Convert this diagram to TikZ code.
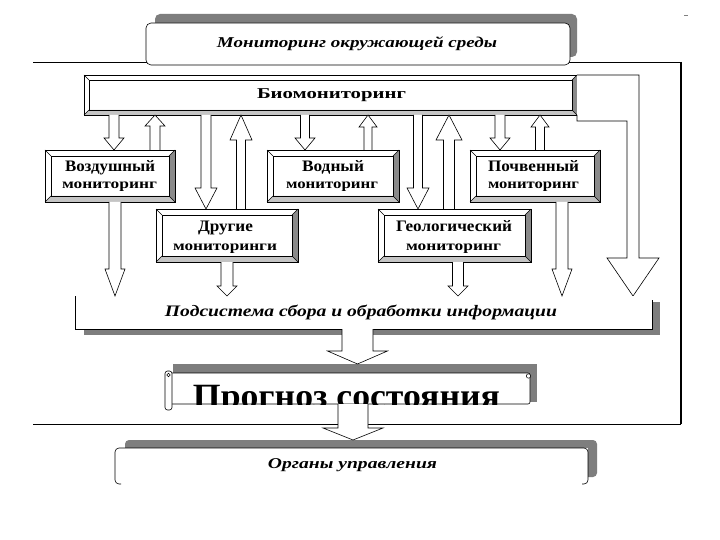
\documentclass[tikz,border=0pt]{standalone}
\usepackage{graphicx}
\usepackage{fontspec}
\setmainfont{Liberation Serif}
\usetikzlibrary{calc}
\definecolor{shd}{HTML}{7E7E7E}
\definecolor{bevl}{HTML}{C4C4C4}
\definecolor{bevd}{HTML}{8A8A8A}
\tikzset{
  thinl/.style={line width=0.6pt, draw=black},
  boxn/.style={inner sep=0pt, outer sep=0pt, draw=none},
  arrowbody/.style={fill=white, draw=black, line width=0.6pt, line join=miter},
  fbig/.style={inner sep=0pt, font=\fontsize{16}{18}\selectfont\bfseries},
  fsmall/.style={inner sep=0pt, font=\fontsize{14}{16}\selectfont\bfseries},
  fital/.style={inner sep=0pt, font=\fontsize{15}{17}\selectfont\bfseries\itshape},
}
\newcommand\wfit[2]{\resizebox{#1}{\height}{#2}}
\newcommand\bevel[2]{%
  \fill[white] (#1.south west) rectangle (#1.north east);
  \fill[bevl] (#1.south west) -- (#1.south east) -- ([xshift=-#2,yshift=#2]#1.south east) -- ([xshift=#2,yshift=#2]#1.south west) -- cycle;
  \fill[bevd] (#1.south east) -- (#1.north east) -- ([xshift=-#2,yshift=-#2]#1.north east) -- ([xshift=-#2,yshift=#2]#1.south east) -- cycle;
  \draw[thinl] (#1.south west) rectangle (#1.north east);
  \draw[thinl] ([xshift=#2,yshift=#2]#1.south west) rectangle ([xshift=-#2,yshift=-#2]#1.north east);
  \draw[thinl] (#1.south west) -- ([xshift=#2,yshift=#2]#1.south west)
    (#1.south east) -- ([xshift=-#2,yshift=#2]#1.south east)
    (#1.north east) -- ([xshift=-#2,yshift=-#2]#1.north east)
    (#1.north west) -- ([xshift=#2,yshift=-#2]#1.north west);
}
% start, tip, shaft half width, head half width, head length (signed: + for down arrows)
\newcommand\barr[5]{%
  \path[arrowbody] ([xshift=-#3]#1) -- ([xshift=-#3,yshift=#5]#2) -- ([xshift=-#4,yshift=#5]#2) -- (#2) -- ([xshift=#4,yshift=#5]#2) -- ([xshift=#3,yshift=#5]#2) -- ([xshift=#3]#1);
}
\begin{document}
\begin{tikzpicture}[x=1pt,y=-1pt]
\useasboundingbox (0,0) rectangle (720,540);
\fill[white] (0,0) rectangle (720,540);

% frame lines
\coordinate (fl1) at (33,62);
\coordinate (fr1) at (681,62);
\coordinate (fr2) at (681,424);
\coordinate (fl2) at (33,424);
\draw[line width=0.8pt] (fl1) -- (fr1);
\draw[line width=1.4pt] (fr1) -- (fr2);
\draw[line width=0.8pt] (fr2) -- (fl2);
\coordinate (mk1) at (684,15);
\coordinate (mk2) at (688,15);
\draw[line width=0.5pt, gray] (mk1) -- (mk2);

% top box
\node[boxn, minimum width=422pt, minimum height=43pt] (topsh) at (366,35.5) {};
\node[boxn, minimum width=424pt, minimum height=42pt] (top) at (358,44) {};
\fill[shd, rounded corners=5pt] (topsh.south west) rectangle (topsh.north east);
\draw[thinl, fill=white, rounded corners=5pt] (top.south west) rectangle (top.north east);
\node[fital, anchor=base] (topt) at (357,48) {\wfit{280pt}{Мониторинг окружающей среды}};

% biomonitoring
\node[boxn, minimum width=493pt, minimum height=40pt] (bio) at (330.5,95) {};
\bevel{bio}{5pt}
\node[inner sep=0pt, font=\fontsize{15}{17}\selectfont\bfseries, anchor=base] (biot) at (331.5,99) {\wfit{149pt}{Биомониторинг}};

% bent arrow from biomonitoring
\node[boxn, minimum width=577pt, minimum height=33pt] (pod) at (363.5,312.5) {};
\coordinate (ba1) at (639,75);
\coordinate (ba2) at (639,258);
\coordinate (ba3) at (659,258);
\coordinate (batip) at (633,0 |- pod.north);
\coordinate (ba5) at (607,258);
\coordinate (ba6) at (627,258);
\coordinate (ba7) at (627,121);
\coordinate (ba8) at (577,121);
\draw[thinl, fill=white, line join=miter] (bio.north east) -- (ba1) -- (ba2) -- (ba3) -- (batip) -- (ba5) -- (ba6) -- (ba7) -- (ba8) -- (bio.south east);

% monitoring boxes
\node[boxn, minimum width=130pt, minimum height=52pt] (vozd) at (110,176) {};
\node[boxn, minimum width=132pt, minimum height=52pt] (vod) at (333,176) {};
\node[boxn, minimum width=130pt, minimum height=52pt] (poch) at (535,176) {};
\node[boxn, minimum width=142pt, minimum height=53pt] (drug) at (227,235.5) {};
\node[boxn, minimum width=153pt, minimum height=53pt] (geol) at (454.5,235.5) {};
\bevel{vozd}{6pt}
\bevel{vod}{6pt}
\bevel{poch}{6pt}
\bevel{drug}{6pt}
\bevel{geol}{6pt}
\node[fbig, anchor=base] (vozda) at (110,172) {\wfit{90pt}{Воздушный}};
\node[fsmall, anchor=base] (vozdb) at (109.5,189) {\wfit{95pt}{мониторинг}};
\node[fbig, anchor=base] (voda) at (333,172) {\wfit{62pt}{Водный}};
\node[fsmall, anchor=base] (vodb) at (332,189) {\wfit{92pt}{мониторинг}};
\node[fbig, anchor=base] (pocha) at (533.5,172) {\wfit{91pt}{Почвенный}};
\node[fsmall, anchor=base] (pochb) at (533.5,189) {\wfit{91pt}{мониторинг}};
\node[fbig, anchor=base] (druga) at (225.5,232) {\wfit{55pt}{Другие}};
\node[fsmall, anchor=base] (drugb) at (225,250) {\wfit{104pt}{мониторинги}};
\node[fbig, anchor=base] (geola) at (454,231) {\wfit{116pt}{Геологический}};
\node[fsmall, anchor=base] (geolb) at (453.5,250) {\wfit{95pt}{мониторинг}};

% arrows between biomonitoring and the boxes
\coordinate (a1s) at (114,0 |- bio.south);  \coordinate (a1t) at (114,0 |- vozd.north);
\coordinate (a2s) at (155,0 |- vozd.north); \coordinate (a2t) at (155,0 |- bio.south);
\coordinate (a3s) at (206,0 |- bio.south);  \coordinate (a3t) at (206,0 |- drug.north);
\coordinate (a4s) at (241,0 |- drug.north); \coordinate (a4t) at (241,0 |- bio.south);
\coordinate (a5s) at (305,0 |- bio.south);  \coordinate (a5t) at (305,0 |- vod.north);
\coordinate (a6s) at (368,0 |- vod.north);  \coordinate (a6t) at (368,0 |- bio.south);
\coordinate (a7s) at (418,0 |- bio.south);  \coordinate (a7t) at (418,0 |- geol.north);
\coordinate (a8s) at (449,0 |- geol.north); \coordinate (a8t) at (449,0 |- bio.south);
\coordinate (a9s) at (500,0 |- bio.south);  \coordinate (a9t) at (500,0 |- poch.north);
\coordinate (a10s) at (540,0 |- poch.north); \coordinate (a10t) at (540,0 |- bio.south);
\barr{a1s}{a1t}{5pt}{10pt}{12pt}
\barr{a2s}{a2t}{5pt}{10pt}{-11pt}
\barr{a3s}{a3t}{5pt}{11pt}{21pt}
\barr{a4s}{a4t}{4.5pt}{11pt}{-25pt}
\barr{a5s}{a5t}{4.5pt}{10pt}{12pt}
\barr{a6s}{a6t}{4pt}{9pt}{-12pt}
\barr{a7s}{a7t}{4.5pt}{11pt}{21pt}
\barr{a8s}{a8t}{5.5pt}{13pt}{-25pt}
\barr{a9s}{a9t}{5pt}{10pt}{12pt}
\barr{a10s}{a10t}{4.5pt}{9pt}{-12pt}

% subsystem (open top box)
\node[boxn, minimum width=576pt, minimum height=33pt] (podsh) at (372,318.5) {};
\fill[shd] (podsh.south west) rectangle (podsh.north east);
\fill[white] (pod.south west) rectangle (pod.north east);
\draw[thinl] (pod.north west) -- (pod.south west) -- (pod.south east) -- ([yshift=-4pt]pod.north east);
\node[inner sep=0pt, font=\fontsize{16}{18}\selectfont\bfseries\itshape, anchor=base] (podt) at (361,316) {\wfit{392pt}{Подсистема сбора и обработки информации}};

% arrows into subsystem
\coordinate (b1s) at (115,0 |- vozd.south); \coordinate (b1t) at (115,0 |- pod.north);
\coordinate (b2s) at (227,0 |- drug.south); \coordinate (b2t) at (227,0 |- pod.north);
\coordinate (b3s) at (458,0 |- geol.south); \coordinate (b3t) at (458,0 |- pod.north);
\coordinate (b4s) at (562,0 |- poch.south); \coordinate (b4t) at (562,0 |- pod.north);
\barr{b1s}{b1t}{6pt}{10pt}{27pt}
\barr{b2s}{b2t}{6pt}{10pt}{10pt}
\barr{b3s}{b3t}{5.5pt}{10pt}{10pt}
\barr{b4s}{b4t}{6pt}{10pt}{27pt}

% forecast scroll
\node[boxn, minimum width=364pt, minimum height=38pt] (progsh) at (355,383) {};
\node[boxn, minimum width=363pt, minimum height=31pt] (prog) at (348.5,388.5) {};
\fill[shd] (progsh.south west) rectangle (progsh.north east);
\draw[thinl, fill=white, rounded corners=2pt] (prog.south west) rectangle (prog.north east);
\begin{scope}
  \clip (prog.south west) rectangle (prog.north east);
  \node[inner sep=0pt, font=\fontsize{34}{36}\selectfont\bfseries, anchor=base] (progt) at (346.5,407) {\wfit{307pt}{Прогноз состояния}};
\end{scope}
\coordinate (sc1) at (165,371);
\coordinate (sc2) at (172,410);
\draw[thinl, fill=white, rounded corners=2.5pt] (sc1) rectangle (sc2);
\coordinate (sc3) at (168.5,375);
\draw[line width=0.5pt] (sc3) circle (1.8pt);
\coordinate (sc4) at (528.5,376);
\draw[line width=0.5pt, fill=white] (sc4) circle (2.2pt);

% arrow subsystem -> forecast
\coordinate (c1s) at (357.5,0 |- pod.south);
\coordinate (c1t) at (357.5,0 |- progsh.north);
\barr{c1s}{c1t}{15.5pt}{30pt}{13pt}

% management bodies
\node[boxn, minimum width=472pt, minimum height=37pt] (orgsh) at (361,458.5) {};
\node[boxn, minimum width=473pt, minimum height=38pt] (org) at (351.5,467) {};
\fill[shd, rounded corners=4pt] (orgsh.south west) rectangle (orgsh.north east);
\fill[white] (org.south west) rectangle (org.north east);
\coordinate (o1) at ([xshift=6pt,yshift=2pt]org.south west);
\coordinate (o2) at ([yshift=2pt]org.south west);
\coordinate (o3) at ([yshift=2pt]org.south east);
\coordinate (o4) at ([xshift=-6pt,yshift=2pt]org.south east);
\draw[thinl, rounded corners=4pt] (o1) -- (o2) -- (org.north west) -- (org.north east) -- (o3) -- (o4);
\node[fital, anchor=base] (orgt) at (352.5,468) {\wfit{169pt}{Органы управления}};

% arrow forecast -> management
\coordinate (d1s) at (353,0 |- prog.south);
\coordinate (d1t) at (353,0 |- orgsh.north);
\barr{d1s}{d1t}{15pt}{30pt}{12pt}
\end{tikzpicture}
\end{document}
